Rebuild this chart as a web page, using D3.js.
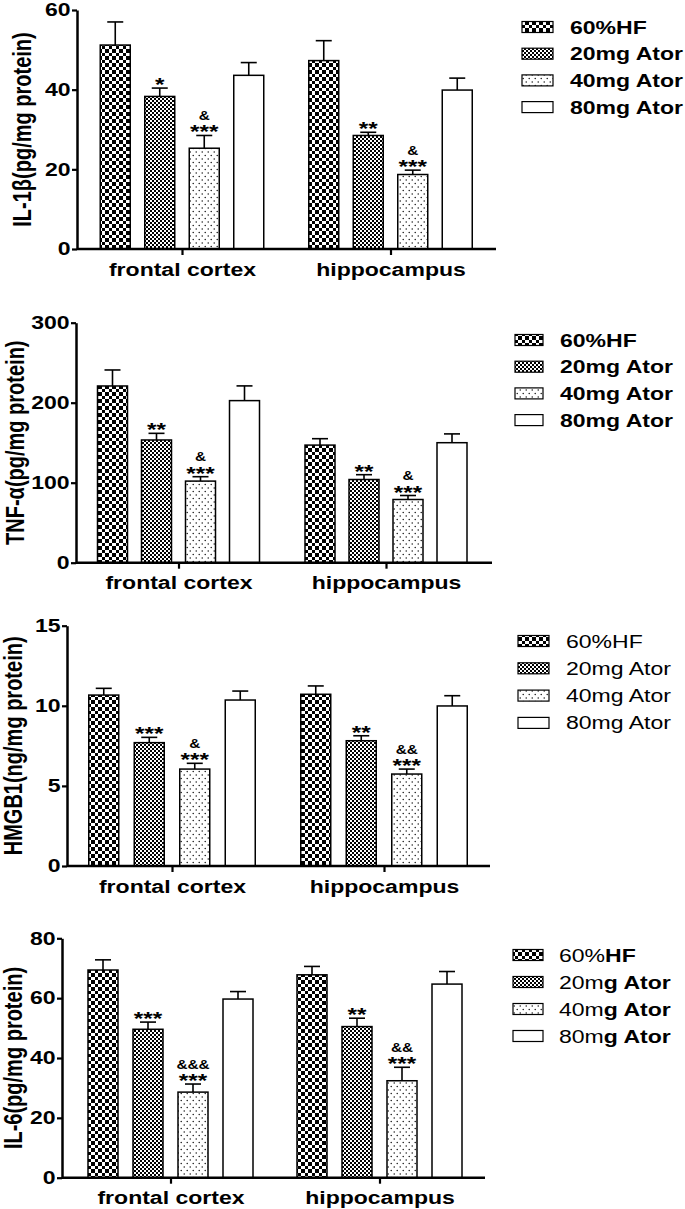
<!DOCTYPE html>
<html>
<head>
<meta charset="utf-8">
<script src="https://cdn.jsdelivr.net/npm/d3@7"></script>
<style>
body { margin: 0; background: #fff; }
text { font-family: "Liberation Sans", Arial, Helvetica, sans-serif; fill: #000; }
</style>
</head>
<body>
<div id="chart"></div>
<script>
// groups and series
var groups = ["frontal cortex", "hippocampus"];
var series = ["60%HF", "20mg Ator", "40mg Ator", "80mg Ator"];

// IL-1b
var il1bMean = [[51.2, 38.3, 25.3, 43.6], [47.3, 28.5, 18.7, 39.9]];
var il1bSem = [[5.8, 2.1, 3.2, 3.2], [5.0, 0.8, 1.1, 3.0]];
var il1bTicks = [0, 20, 40, 60];
var il1bStars = [["", "*", "***", ""], ["", "**", "***", ""]];
var il1bAmps = [["", "", "&", ""], ["", "", "&", ""]];

// TNF-a
var tnfMean = [[220.9, 153.4, 102, 202.6], [147, 104, 79, 150]];
var tnfSem = [[20, 8.3, 5.5, 18.4], [8, 6, 5, 11]];
var tnfTicks = [0, 100, 200, 300];
var tnfStars = [["", "**", "***", ""], ["", "**", "***", ""]];
var tnfAmps = [["", "", "&", ""], ["", "", "&", ""]];

// HMGB1
var hmgbMean = [[10.67, 7.70, 6.05, 10.36], [10.72, 7.82, 5.74, 9.99]];
var hmgbSem = [[0.42, 0.33, 0.36, 0.56], [0.52, 0.31, 0.31, 0.64]];
var hmgbTicks = [0, 5, 10, 15];
var hmgbStars = [["", "***", "***", ""], ["", "**", "***", ""]];
var hmgbAmps = [["", "", "&", ""], ["", "", "&&", ""]];

// IL-6
var il6Mean = [[69.4, 49.6, 28.6, 59.7], [67.8, 50.5, 32.4, 64.7]];
var il6Sem = [[3.4, 2.4, 2.7, 2.5], [2.8, 2.8, 4.5, 4.2]];
var il6Ticks = [0, 20, 40, 60, 80];
var il6Stars = [["", "***", "***", ""], ["", "**", "***", ""]];
var il6Amps = [["", "", "&&&", ""], ["", "", "&&", ""]];

var yLabels = ["IL-1β(pg/mg protein)", "TNF-α(pg/mg protein)", "HMGB1(ng/mg protein)", "IL-6(pg/mg protein)"];
// last legend: plain part + bold part
var legendSplit = [["60%", "HF"], ["20m", "g Ator"], ["40m", "g Ator"], ["80m", "g Ator"]];

var SX = 1.28; // the figure is stretched sideways

var panels = [
  {label: yLabels[0], mean: il1bMean, sem: il1bSem, ticks: il1bTicks, stars: il1bStars, amps: il1bAmps,
   top: 10, bottom: 249, left: 77, right: 496, c0: 182, c1: 390.5, step: 44.5, labelX: 31,
   lx: 522, lw: 31, tx: 570, ly: 27, ldy: 26.7, weight: "bold"},
  {label: yLabels[1], mean: tnfMean, sem: tnfSem, ticks: tnfTicks, stars: tnfStars, amps: tnfAmps,
   top: 322.7, bottom: 562.7, left: 76, right: 492, c0: 178.5, c1: 386, step: 44, labelX: 24,
   lx: 515, lw: 28, tx: 560, ly: 340, ldy: 26.7, weight: "bold"},
  {label: yLabels[2], mean: hmgbMean, sem: hmgbSem, ticks: hmgbTicks, stars: hmgbStars, amps: hmgbAmps,
   top: 625.7, bottom: 866, left: 67, right: 490, c0: 172, c1: 384, step: 45.5, labelX: 22,
   lx: 518, lw: 31, tx: 566, ly: 641, ldy: 27.3, weight: "normal"},
  {label: yLabels[3], mean: il6Mean, sem: il6Sem, ticks: il6Ticks, stars: il6Stars, amps: il6Amps,
   top: 938.3, bottom: 1177.7, left: 62, right: 485, c0: 170.5, c1: 379.5, step: 45, labelX: 22,
   lx: 513, lw: 30, tx: 559, ly: 955, ldy: 27, weight: "mixed"}
];

var svg = d3.select("#chart").append("svg")
  .attr("width", 685)
  .attr("height", 1209);

// fills
var defs = svg.append("defs");
var p0 = defs.append("pattern").attr("id", "pat0").attr("patternUnits", "userSpaceOnUse")
  .attr("width", 7).attr("height", 7);
p0.append("rect").attr("width", 7).attr("height", 7).attr("fill", "#fff");
p0.append("rect").attr("width", 3.5).attr("height", 3.5).attr("fill", "#000").attr("shape-rendering", "crispEdges");
p0.append("rect").attr("x", 3.5).attr("y", 3.5).attr("width", 3.5).attr("height", 3.5).attr("fill", "#000").attr("shape-rendering", "crispEdges");

var p1 = defs.append("pattern").attr("id", "pat1").attr("patternUnits", "userSpaceOnUse")
  .attr("width", 4).attr("height", 4);
p1.append("rect").attr("width", 4).attr("height", 4).attr("fill", "#fff");
p1.append("rect").attr("width", 2).attr("height", 2).attr("fill", "#000").attr("shape-rendering", "crispEdges");
p1.append("rect").attr("x", 2).attr("y", 2).attr("width", 2).attr("height", 2).attr("fill", "#000").attr("shape-rendering", "crispEdges");

var p2 = defs.append("pattern").attr("id", "pat2").attr("patternUnits", "userSpaceOnUse")
  .attr("width", 6).attr("height", 7);
p2.append("rect").attr("width", 6).attr("height", 7).attr("fill", "#fff");
p2.append("circle").attr("cx", 1.2).attr("cy", 1.5).attr("r", 0.7).attr("fill", "#000");
p2.append("circle").attr("cx", 4.2).attr("cy", 5).attr("r", 0.7).attr("fill", "#000");

var fills = ["url(#pat0)", "url(#pat1)", "url(#pat2)", "#fff"];

function stext(sel, x, y, str) {
  return sel.append("text")
    .attr("transform", "translate(" + x + "," + y + ") scale(" + SX + ",1)")
    .text(str);
}

panels.forEach(function(p, pi) {
  var g = svg.append("g");
  var max = p.ticks[p.ticks.length - 1];

  var y = d3.scaleLinear().domain([0, max]).range([p.bottom, p.top]);
  var x0 = d3.scalePoint().domain(groups).range([p.c0, p.c1]);
  var pad = 1 - 30 / p.step;
  var x1 = d3.scaleBand().domain(series).range([-2 * p.step, 2 * p.step])
    .paddingInner(pad).paddingOuter(pad / 2);

  // bars + error bars
  groups.forEach(function(grp, gi) {
    series.forEach(function(s, si) {
      var m = p.mean[gi][si], e = m + p.sem[gi][si];
      var bx = x0(grp) + x1(s);
      var cx = bx + x1.bandwidth() / 2;
      g.append("line")
        .attr("x1", cx).attr("x2", cx).attr("y1", y(m)).attr("y2", y(e))
        .attr("stroke", "#000").attr("stroke-width", 1.6);
      g.append("line")
        .attr("x1", cx - 8).attr("x2", cx + 8).attr("y1", y(e)).attr("y2", y(e))
        .attr("stroke", "#000").attr("stroke-width", 1.6);
      g.append("rect")
        .attr("x", bx).attr("y", y(m))
        .attr("width", x1.bandwidth()).attr("height", y(0) - y(m))
        .attr("fill", fills[si]).attr("stroke", "#000").attr("stroke-width", 1.5);

      if (p.stars[gi][si]) {
        stext(g, cx, y(e) + 3, p.stars[gi][si])
          .attr("text-anchor", "middle").style("font-size", "19px").style("font-weight", "bold");
      }
      if (p.amps[gi][si]) {
        stext(g, cx, y(e) - 15.5, p.amps[gi][si])
          .attr("text-anchor", "middle").style("font-size", "12px").style("font-weight", "bold");
      }
    });
  });

  // y axis
  var yAxis = g.append("g")
    .attr("transform", "translate(" + p.left + ",0)")
    .call(d3.axisLeft(y).tickValues(p.ticks).tickSize(5).tickSizeOuter(0).tickPadding(0));
  yAxis.select(".domain").attr("stroke-width", 2.5);
  yAxis.selectAll(".tick line").attr("stroke-width", 2.2);
  yAxis.selectAll(".tick text")
    .attr("transform", "scale(" + SX + ",1)")
    .style("font-size", "18px").style("font-weight", "bold")
    .style("font-family", "'Liberation Sans', Arial, sans-serif");

  // x axis
  g.append("line")
    .attr("x1", p.left).attr("x2", p.right).attr("y1", y(0)).attr("y2", y(0))
    .attr("stroke", "#000").attr("stroke-width", 2.5);
  var xAxis = g.append("g")
    .attr("transform", "translate(0," + y(0) + ")")
    .call(d3.axisBottom(x0).tickSize(6).tickSizeOuter(0).tickPadding(8));
  xAxis.select(".domain").remove();
  xAxis.selectAll(".tick line").attr("stroke-width", 2.2);
  xAxis.selectAll(".tick text")
    .attr("transform", "scale(" + SX + ",1)")
    .style("font-size", "18px").style("font-weight", "bold")
    .style("font-family", "'Liberation Sans', Arial, sans-serif");

  // y label
  g.append("text")
    .attr("transform", "translate(" + p.labelX + "," + (p.top + p.bottom) / 2 + ") scale(" + SX + ",1) rotate(-90)")
    .attr("text-anchor", "middle")
    .style("font-size", "20px").style("font-weight", "bold")
    .text(p.label);

  // legend
  series.forEach(function(s, si) {
    var cy = p.ly + si * p.ldy;
    g.append("rect")
      .attr("x", p.lx).attr("y", cy - 5.5)
      .attr("width", p.lw).attr("height", 11)
      .attr("fill", fills[si]).attr("stroke", "#000").attr("stroke-width", 1.2);
    var t = g.append("text")
      .attr("transform", "translate(" + p.tx + "," + (cy + 6.5) + ") scale(" + SX + ",1)")
      .style("font-size", "18px");
    if (p.weight == "mixed") {
      t.append("tspan").style("font-weight", "normal").text(legendSplit[si][0]);
      t.append("tspan").style("font-weight", "bold").text(legendSplit[si][1]);
    } else {
      t.style("font-weight", p.weight).text(s);
    }
  });
});
</script>
</body>
</html>
